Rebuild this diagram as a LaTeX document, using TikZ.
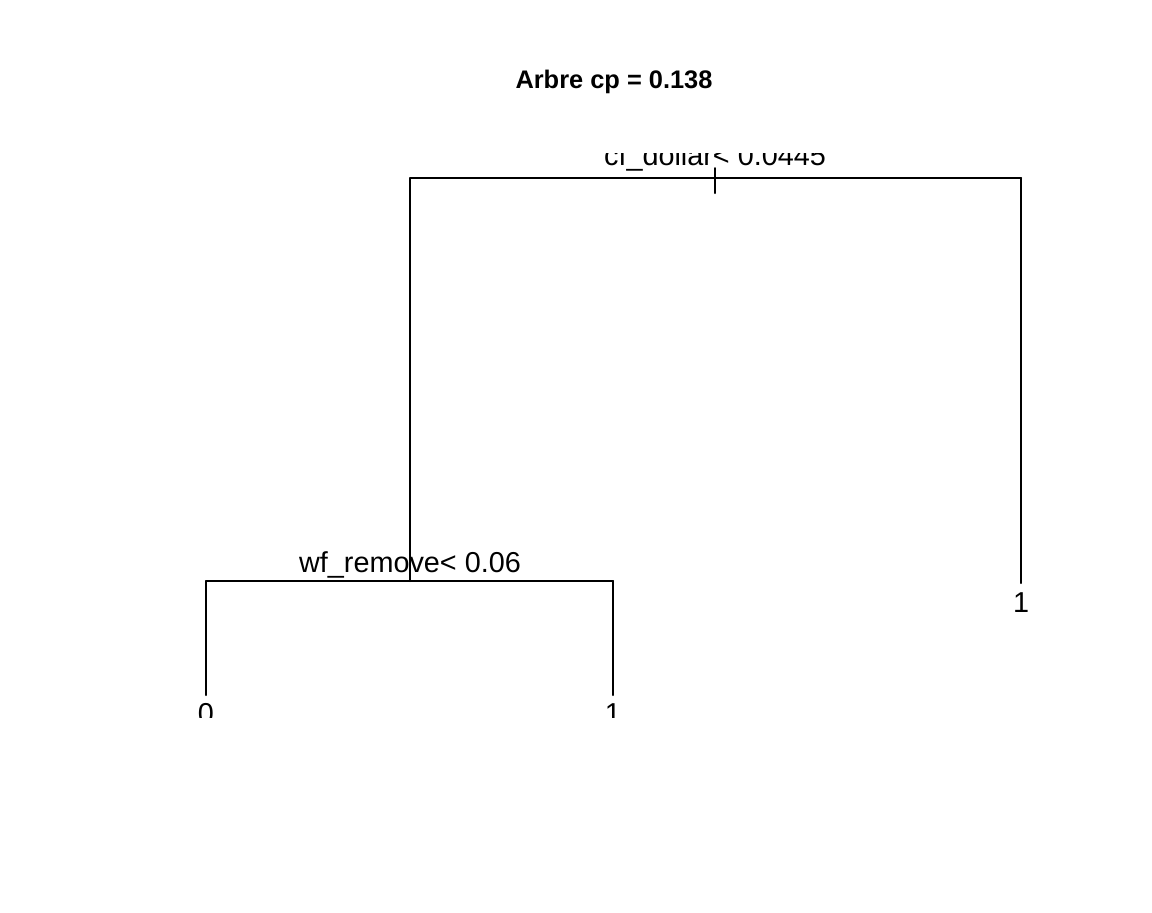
\documentclass[tikz,border=0pt]{standalone}
\usepackage{fontspec}
\setmainfont{Liberation Sans}
\begin{document}
\begin{tikzpicture}[
  x=0.5pt, y=-0.5pt,
  br/.style={line width=1pt, line cap=round},
  lbl/.style={inner sep=0pt, anchor=base, font=\fontsize{14.4}{17}\selectfont}
]
\useasboundingbox (0,0) rectangle (1152,912);
% Title
\node[inner sep=0pt, anchor=base, font=\bfseries\fontsize{12.7}{15}\selectfont] (title) at (614,88) {Arbre cp = 0.138};
\begin{scope}
\clip (0,153) rectangle (1152,717);
% Root split
\coordinate (root) at (715,178);
\coordinate (rootL) at (410,178);
\coordinate (rootR) at (1021,178);
\coordinate (tickT) at (715,168);
\coordinate (tickB) at (715,193);
\node[lbl] (sroot) at (715,165) {cf\_dollar< 0.0445};
\draw[br] (rootL) -- (rootR);
\draw[br] (tickT) -- (tickB);
% Left split
\coordinate (n2) at (410,581);
\coordinate (n2L) at (206,581);
\coordinate (n2R) at (613,581);
\node[lbl] (sn2) at (410,572) {wf\_remove< 0.06};
\draw[br] (rootL) -- (n2);
\draw[br] (n2L) -- (n2R);
% Leaves
\coordinate (l0) at (206,695);
\coordinate (l1) at (613,695);
\coordinate (l3) at (1021,583);
\draw[br] (n2L) -- (l0);
\draw[br] (n2R) -- (l1);
\draw[br] (rootR) -- (l3);
\node[lbl] (t0) at (206,723) {0};
\node[lbl] (t1) at (613,723) {1};
\node[lbl] (t3) at (1021,612) {1};
\end{scope}
\end{tikzpicture}
\end{document}
